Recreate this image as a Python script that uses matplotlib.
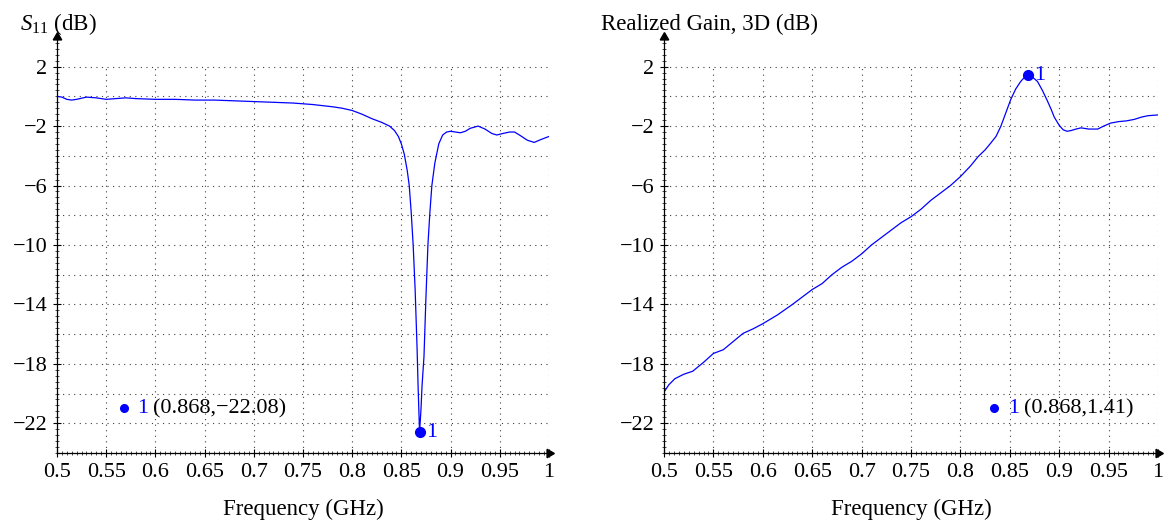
import numpy as np
import matplotlib
matplotlib.use("Agg")
import matplotlib.pyplot as plt
from matplotlib.ticker import MultipleLocator

plt.rcParams['font.family'] = ['Liberation Serif', 'DejaVu Serif']
plt.rcParams['mathtext.fontset'] = 'custom'
plt.rcParams['mathtext.rm'] = 'Liberation Serif'
plt.rcParams['mathtext.it'] = 'Liberation Serif:italic'

# S11 trace
freq_s11 = [0.500, 0.505, 0.510, 0.515, 0.520, 0.530, 0.540, 0.550, 0.560, 0.570,
            0.580, 0.600, 0.620, 0.640, 0.660, 0.680, 0.700, 0.720, 0.740, 0.760,
            0.780, 0.790, 0.800, 0.810, 0.820, 0.830, 0.838, 0.843, 0.847, 0.850,
            0.853, 0.856, 0.858, 0.860, 0.862, 0.864, 0.866, 0.867, 0.8685, 0.870,
            0.871, 0.873, 0.875, 0.877, 0.879, 0.881, 0.884, 0.888, 0.892, 0.896,
            0.900, 0.905, 0.910, 0.915, 0.920, 0.928, 0.935, 0.942, 0.947, 0.953,
            0.960, 0.965, 0.970, 0.978, 0.985, 0.992, 1.000]
s11_db = [0.0, -0.05, -0.2, -0.25, -0.2, -0.05, -0.1, -0.2, -0.15, -0.1,
          -0.15, -0.2, -0.2, -0.25, -0.25, -0.3, -0.35, -0.4, -0.45, -0.55,
          -0.7, -0.8, -0.95, -1.2, -1.5, -1.75, -2.0, -2.3, -2.7, -3.2,
          -3.9, -5.0, -6.0, -7.8, -10.0, -13.0, -17.0, -19.5, -22.6, -21.0,
          -19.5, -17.5, -13.5, -10.0, -7.8, -6.0, -4.5, -3.2, -2.6, -2.4,
          -2.35, -2.4, -2.45, -2.35, -2.15, -2.0, -2.2, -2.5, -2.6, -2.5,
          -2.4, -2.4, -2.6, -2.95, -3.1, -2.9, -2.7]

# Realized gain trace
freq_gain = [0.500, 0.505, 0.511, 0.520, 0.529, 0.540, 0.550, 0.560, 0.570, 0.580,
             0.590, 0.600, 0.615, 0.630, 0.640, 0.650, 0.660, 0.670, 0.680, 0.690,
             0.700, 0.710, 0.720, 0.730, 0.740, 0.750, 0.760, 0.770, 0.780, 0.790,
             0.800, 0.810, 0.818, 0.825, 0.830, 0.836, 0.841, 0.846, 0.851, 0.856,
             0.861, 0.865, 0.868, 0.872, 0.878, 0.883, 0.888, 0.892, 0.895, 0.900,
             0.904, 0.908, 0.912, 0.917, 0.922, 0.930, 0.939, 0.945, 0.952, 0.960,
             0.968, 0.976, 0.983, 0.990, 1.000]
gain_db = [-19.9, -19.4, -19.0, -18.7, -18.5, -17.9, -17.3, -17.05, -16.5, -15.95,
           -15.65, -15.3, -14.7, -14.0, -13.5, -13.0, -12.6, -12.0, -11.5, -11.1,
           -10.6, -10.0, -9.5, -9.0, -8.5, -8.1, -7.6, -7.0, -6.5, -6.0,
           -5.4, -4.7, -4.05, -3.6, -3.2, -2.7, -2.0, -1.1, -0.2, 0.5,
           1.0, 1.3, 1.41, 1.35, 1.0, 0.4, -0.3, -0.9, -1.4, -1.95,
           -2.25, -2.35, -2.3, -2.2, -2.12, -2.2, -2.2, -2.0, -1.8, -1.7,
           -1.65, -1.55, -1.4, -1.3, -1.25]

marker_label_s11 = '(0.868,\u221222.08)'
marker_label_gain = '(0.868,1.41)'

x_ticks = [0.5, 0.55, 0.6, 0.65, 0.7, 0.75, 0.8, 0.85, 0.9, 0.95, 1.0]
x_tick_labels = ['0.5', '0.55', '0.6', '0.65', '0.7', '0.75', '0.8', '0.85', '0.9', '0.95', '1']
y_ticks = [2, -2, -6, -10, -14, -18, -22]
y_tick_labels = ['2', '\u22122', '\u22126', '\u221210', '\u221214', '\u221218', '\u221222']

blue = '#0000ff'
grid_kw = dict(color='0.25', linestyle=(0, (1, 4)), linewidth=0.8, zorder=0)

fig = plt.figure(figsize=(11.67, 5.26), dpi=100)
ax1 = fig.add_axes([0.0488, 0.1388, 0.4216, 0.791])
ax2 = fig.add_axes([0.569, 0.1388, 0.4233, 0.791])


def style_axes(ax):
    ax.set_xlim(0.5, 1.0)
    ax.set_ylim(-24, 4)
    ax.spines['top'].set_visible(False)
    ax.spines['right'].set_visible(False)
    ax.spines['left'].set_linewidth(0.9)
    ax.spines['bottom'].set_linewidth(0.9)
    ax.set_xticks(x_ticks)
    ax.set_xticklabels(x_tick_labels)
    ax.set_yticks(y_ticks)
    ax.set_yticklabels(y_tick_labels)
    ax.xaxis.set_minor_locator(MultipleLocator(0.005))
    ax.yaxis.set_minor_locator(MultipleLocator(0.4))
    ax.tick_params(which='major', direction='inout', length=6, width=0.8,
                   labelsize=16, pad=4)
    ax.tick_params(which='minor', direction='inout', length=2.5, width=0.5)
    # grid stops at the top tick, the axis line runs on to the arrow
    ax.vlines(x_ticks[1:], -24, 2, **grid_kw)
    for y in np.arange(-22, 3, 2):
        ax.axhline(y, **grid_kw)
    # arrow heads
    ax.plot(1, 0, marker=(3, 0, -90), ms=7, color='k', transform=ax.transAxes, clip_on=False)
    ax.plot(0, 1, marker=(3, 0, 0), ms=7, color='k', transform=ax.transAxes, clip_on=False)
    ax.text(0.5, -0.149, 'Frequency (GHz)', transform=ax.transAxes,
            ha='center', va='baseline', fontsize=16.5)


style_axes(ax1)
style_axes(ax2)

# S11 panel
ax1.plot(freq_s11, s11_db, color=blue, lw=0.9)
i = int(np.argmin(s11_db))
ax1.plot(freq_s11[i], s11_db[i], 'o', color=blue, ms=7)
ax1.annotate('1', (freq_s11[i], s11_db[i]), xytext=(5, 0), textcoords='offset points',
             color=blue, fontsize=16, ha='left', va='center')
ax1.plot(0.568, -21.0, 'o', color=blue, ms=5.5)
ax1.text(0.5813, -21.0, '1', color=blue, fontsize=16, va='center')
ax1.text(0.5976, -21.0, marker_label_s11, color='k', fontsize=16, va='center')
fig.text(20 / 1167, 0.943, r'$S_{11}$ (dB)', fontsize=16.5, ha='left', va='baseline')

# Gain panel
ax2.plot(freq_gain, gain_db, color=blue, lw=0.9)
j = int(np.argmax(gain_db))
ax2.plot(freq_gain[j], gain_db[j], 'o', color=blue, ms=7)
ax2.annotate('1', (freq_gain[j], gain_db[j]), xytext=(5, 0), textcoords='offset points',
             color=blue, fontsize=16, ha='left', va='center')
ax2.plot(0.8337, -21.0, 'o', color=blue, ms=5.5)
ax2.text(0.8479, -21.0, '1', color=blue, fontsize=16, va='center')
ax2.text(0.8641, -21.0, marker_label_gain, color='k', fontsize=16, va='center')
fig.text(601 / 1167, 0.943, 'Realized Gain, 3D (dB)', fontsize=16.5, ha='left', va='baseline')

fig.savefig('out.png', dpi=100)
